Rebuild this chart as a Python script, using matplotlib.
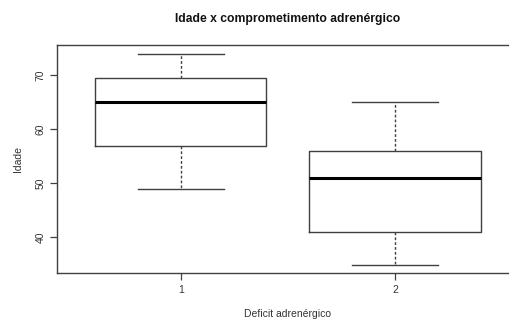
import matplotlib
matplotlib.use("Agg")
import matplotlib.pyplot as plt

plt.rcParams["font.family"] = ["Liberation Sans", "DejaVu Sans"]

# box stats per group: whisker low, Q1, median, Q3, whisker high
groups = [1, 2]
whislo = [49, 35]
q1 = [57, 41]
med = [65, 51]
q3 = [69.5, 56]
whishi = [74, 65]

stats = [
    dict(whislo=whislo[i], q1=q1[i], med=med[i], q3=q3[i], whishi=whishi[i], fliers=[])
    for i in range(len(groups))
]

line_col = "#404040"
fig = plt.figure(figsize=(5.1, 3.2), dpi=100, facecolor="white")
ax = fig.add_axes([0.111, 0.147, 0.907, 0.712])

ax.bxp(stats, positions=groups, widths=0.8, showfliers=False,
       boxprops=dict(color=line_col, linewidth=1.0),
       whiskerprops=dict(color=line_col, linewidth=1.0, linestyle=(0, (2, 1.5))),
       capprops=dict(color=line_col, linewidth=1.0),
       medianprops=dict(color="black", linewidth=2.2),
       capwidths=0.4)

ax.set_xlim(0.42, 2.58)
ax.set_ylim(33.44, 75.56)
ax.set_xticks(groups)
ax.set_xticklabels([str(g) for g in groups])
ax.set_yticks([40, 50, 60, 70])
for lab in ax.get_yticklabels():
    lab.set_rotation(90)
    lab.set_va("center")

ax.tick_params(axis="both", length=5, width=0.9, color=line_col, labelsize=7.5,
               labelcolor="#333333", pad=4)
ax.tick_params(axis="y", pad=3)
for sp in ax.spines.values():
    sp.set_color(line_col)
    sp.set_linewidth(1.0)

ax.set_title("Idade x comprometimento adrenérgico", fontsize=8.7, fontweight="bold",
             color="#111111", pad=17)
ax.set_xlabel("Deficit adrenérgico", fontsize=7.5, color="#333333", labelpad=10)
ax.set_ylabel("Idade", fontsize=7.5, color="#333333", labelpad=9)

fig.savefig("out.png", dpi=100, facecolor="white")
